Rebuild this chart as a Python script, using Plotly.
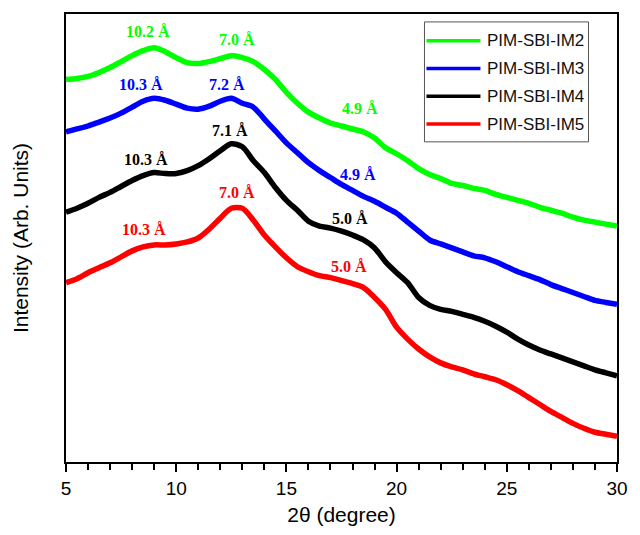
import plotly.graph_objects as go

# Diffraction angle grid (2θ, degrees)
two_theta = [5 + 0.5 * i for i in range(51)]

# Intensity readings (arbitrary units), one list per polymer
im2 = [386, 387, 389, 393, 398, 404, 410, 415, 418, 414, 408, 403, 402, 404, 407, 410,
       408, 404, 396, 386, 373, 362, 353, 347, 342, 339, 336, 333, 327, 317, 311, 304,
       296, 290, 286, 281, 279, 276, 274, 270, 267, 264, 261, 257, 254, 251, 247, 244,
       242, 240, 238]
im3 = [333, 336, 339, 343, 347, 352, 358, 364, 367, 365, 361, 357, 356, 359, 364, 367,
       362, 358, 346, 334, 322, 312, 302, 294, 287, 280, 274, 268, 263, 257, 251, 242,
       233, 224, 220, 216, 212, 208, 206, 202, 197, 192, 188, 184, 179, 175, 171, 167,
       163, 161, 159]
im4 = [252, 256, 261, 267, 272, 278, 284, 289, 292, 291, 291, 294, 299, 306, 314, 321,
       318, 304, 292, 277, 264, 254, 243, 238, 236, 233, 229, 224, 216, 202, 191, 181,
       166, 158, 154, 152, 149, 146, 142, 137, 131, 124, 118, 113, 109, 105, 101, 97,
       93, 90, 87]
im5 = [181, 185, 191, 196, 201, 207, 213, 217, 219, 219, 220, 222, 226, 235, 246, 256,
       256, 244, 229, 217, 206, 197, 192, 188, 186, 183, 180, 176, 166, 154, 136, 124,
       114, 106, 100, 96, 93, 89, 86, 83, 78, 72, 65, 58, 51, 45, 39, 34, 30, 28, 26]

names = ["PIM-SBI-IM2", "PIM-SBI-IM3", "PIM-SBI-IM4", "PIM-SBI-IM5"]
colors = ["#00ff00", "#0000ff", "#000000", "#ff0000"]
series = [im2, im3, im4, im5]

# d-spacing labels: (text, 2θ position, intensity position, series index)
label_text = ["10.2 Å", "7.0 Å", "4.9 Å",
              "10.3 Å", "7.2 Å", "4.9 Å",
              "10.3 Å", "7.1 Å", "5.0 Å",
              "10.3 Å", "7.0 Å", "5.0 Å"]
label_x = [8.72, 12.74, 18.32,
           8.41, 12.30, 18.27,
           8.63, 12.43, 17.87,
           8.55, 12.74, 17.82]
label_y = [434, 426, 357,
           381, 381, 290,
           305, 334, 246,
           235, 272, 197]
label_series = [0, 0, 0, 1, 1, 1, 2, 2, 2, 3, 3, 3]

fig = go.Figure()
for name, color, ys in zip(names, colors, series):
    fig.add_trace(go.Scatter(
        x=two_theta, y=ys, mode="lines", name=name, showlegend=False,
        line=dict(color=color, width=5.5, shape="spline", smoothing=0.8),
    ))

for t, lx, ly, s in zip(label_text, label_x, label_y, label_series):
    fig.add_annotation(
        x=lx, y=ly, text="<b>" + t + "</b>", showarrow=False,
        font=dict(family="Liberation Serif", size=16, color=colors[s]),
        xanchor="center", yanchor="middle",
    )

# Legend panel drawn in paper coordinates
box_x0, box_x1, box_y0, box_y1 = 0.6506, 0.9483, 0.7146, 0.9823
key_x0, key_x1, key_text_x = 0.6542, 0.7522, 0.7611
row_y = [0.9403, 0.8783, 0.8164, 0.7544]
fig.add_shape(type="rect", xref="paper", yref="paper",
              x0=box_x0, x1=box_x1, y0=box_y0, y1=box_y1,
              line=dict(color="#555555", width=1), fillcolor="white", layer="above")
for name, color, ry in zip(names, colors, row_y):
    fig.add_shape(type="line", xref="paper", yref="paper",
                  x0=key_x0, x1=key_x1, y0=ry, y1=ry,
                  line=dict(color=color, width=3.5), layer="above")
    fig.add_annotation(xref="paper", yref="paper", x=key_text_x, y=ry,
                       text=name, showarrow=False, xanchor="left", yanchor="middle",
                       font=dict(family="Liberation Sans", size=17, color="#111111"))

fig.update_layout(
    width=640, height=535,
    margin=dict(l=66, r=13, t=12, b=71),
    paper_bgcolor="white", plot_bgcolor="white",
    font=dict(family="Liberation Sans", color="black"),
    showlegend=False,
    xaxis=dict(
        range=[5, 30], tickvals=[5, 10, 15, 20, 25, 30],
        ticks="outside", ticklen=8, tickwidth=1.5, tickcolor="black",
        minor=dict(dtick=1, ticks="outside", ticklen=6, tickwidth=1.5, tickcolor="black"),
        showline=True, linecolor="black", linewidth=2, mirror=True,
        showgrid=False, zeroline=False,
        tickfont=dict(size=19, family="Liberation Sans"),
        title=dict(text="2θ (degree)", font=dict(size=21, family="Liberation Sans"), standoff=10),
    ),
    yaxis=dict(
        range=[0, 452], showticklabels=False, ticks="",
        showline=True, linecolor="black", linewidth=2, mirror=True,
        showgrid=False, zeroline=False,
        title=dict(text="Intensity (Arb. Units)", font=dict(size=21, family="Liberation Sans"), standoff=30),
    ),
)

fig.write_html("out.html")
